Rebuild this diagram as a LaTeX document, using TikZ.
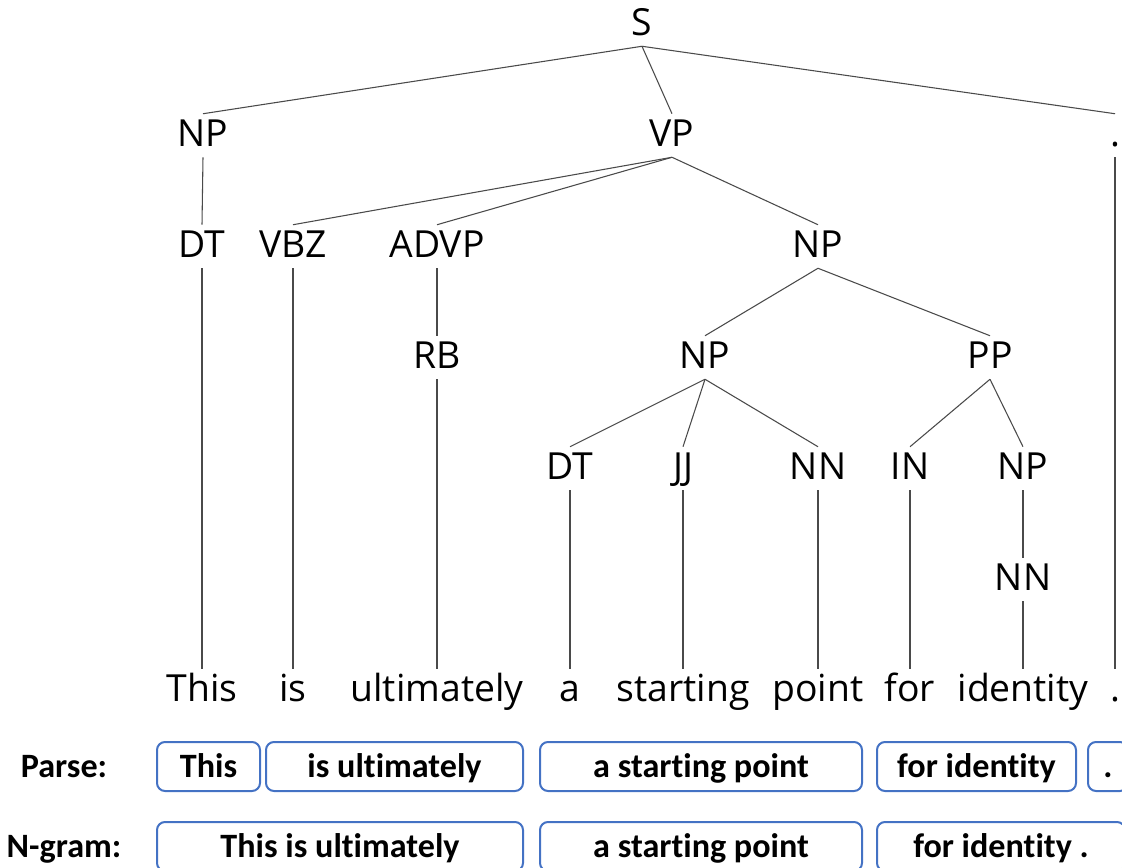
\documentclass[tikz,border=0pt]{standalone}
\usepackage{fontspec}
\setmainfont{Open Sans}
\newfontfamily\chunkfont[Ligatures=NoCommon]{Carlito}
\definecolor{chunkblue}{HTML}{4472C4}
\definecolor{edgegray}{HTML}{4A4A4A}
\begin{document}
\begin{tikzpicture}[x=0.75pt,y=-0.75pt,
  tag/.style={anchor=base, font=\fontsize{28}{30}\selectfont,
    text height=22.5pt, text depth=6.75pt, inner xsep=0pt, inner ysep=1.5pt},
  branch/.style={draw=edgegray, line width=0.8pt},
  chunk/.style={draw=chunkblue, line width=1.5pt, rounded corners=6pt,
    minimum height=36.75pt, text height=16.3pt, text depth=0pt, inner sep=0pt,
    font=\chunkfont\bfseries\fontsize{25.6}{28}\selectfont},
  rowlabel/.style={text height=16.3pt, text depth=0pt, inner sep=0pt,
    font=\chunkfont\bfseries\fontsize{25.6}{28}\selectfont}]
\clip (0,0) rectangle (1122,868);
\useasboundingbox (0,0) rectangle (1122,868);

% constituent labels
\node[tag] (s)    at (642,35)  {S};
\node[tag] (np1)  at (203,146) {NP};
\node[tag] (vp)   at (672,146) {VP};
\node[tag] (pd)   at (1115,146) {.};
\node[tag] (dt1)  at (202,257) {DT};
\node[tag] (vbz)  at (293,257) {VBZ};
\node[tag] (advp) at (437,257) {ADVP};
\node[tag] (np2)  at (818,257) {NP};
\node[tag] (rb)   at (437,368) {RB};
\node[tag] (np3)  at (705,368) {NP};
\node[tag] (pp)   at (990,368) {PP};
\node[tag] (dt2)  at (570,479) {DT};
\node[tag] (jj)   at (683,479) {JJ};
\node[tag] (nn1)  at (818,479) {NN};
\node[tag] (in)   at (910,479) {IN};
\node[tag] (np4)  at (1023,479) {NP};
\node[tag] (nn2)  at (1023,590) {NN};

% words
\node[tag] (w1) at (202,701)  {This};
\node[tag] (w2) at (293,701)  {is};
\node[tag] (w3) at (437,701)  {ultimately};
\node[tag] (w4) at (570,701)  {a};
\node[tag] (w5) at (683,701)  {starting};
\node[tag] (w6) at (818,701)  {point};
\node[tag] (w7) at (910,701)  {for};
\node[tag] (w8) at (1023,701) {identity};
\node[tag] (w9) at (1115,701) {.};

% branches
\foreach \p/\c in {s/np1, s/vp, s/pd, np1/dt1, vp/vbz, vp/advp, vp/np2,
    advp/rb, np2/np3, np2/pp, np3/dt2, np3/jj, np3/nn1, pp/in, pp/np4,
    np4/nn2, dt1/w1, vbz/w2, rb/w3, dt2/w4, jj/w5, nn1/w6, in/w7, nn2/w8, pd/w9}
  \draw[branch] (\p.south) -- (\c.north);

% segmentation rows
\node[rowlabel] (lparse) at (64,766.5) {Parse:};
\node[chunk, minimum width=77.25pt]  (p1) at (208.5,766.5) {This};
\node[chunk, minimum width=192.75pt] (p2) at (394.5,766.5) {is ultimately};
\node[chunk, minimum width=241.5pt]  (p3) at (701,766.5)   {a starting point};
\node[chunk, minimum width=149.25pt] (p4) at (976.5,766.5) {for identity};
\node[chunk, minimum width=30pt]     (p5) at (1108,766.5)  {.};

\node[rowlabel] (lngram) at (64,846.5) {N-gram:};
\node[chunk, minimum width=274.5pt] (g1) at (340,846.5)  {This is ultimately};
\node[chunk, minimum width=241.5pt] (g2) at (701,846.5)  {a starting point};
\node[chunk, minimum width=186pt]   (g3) at (1001,846.5) {for identity .};
\end{tikzpicture}
\end{document}
